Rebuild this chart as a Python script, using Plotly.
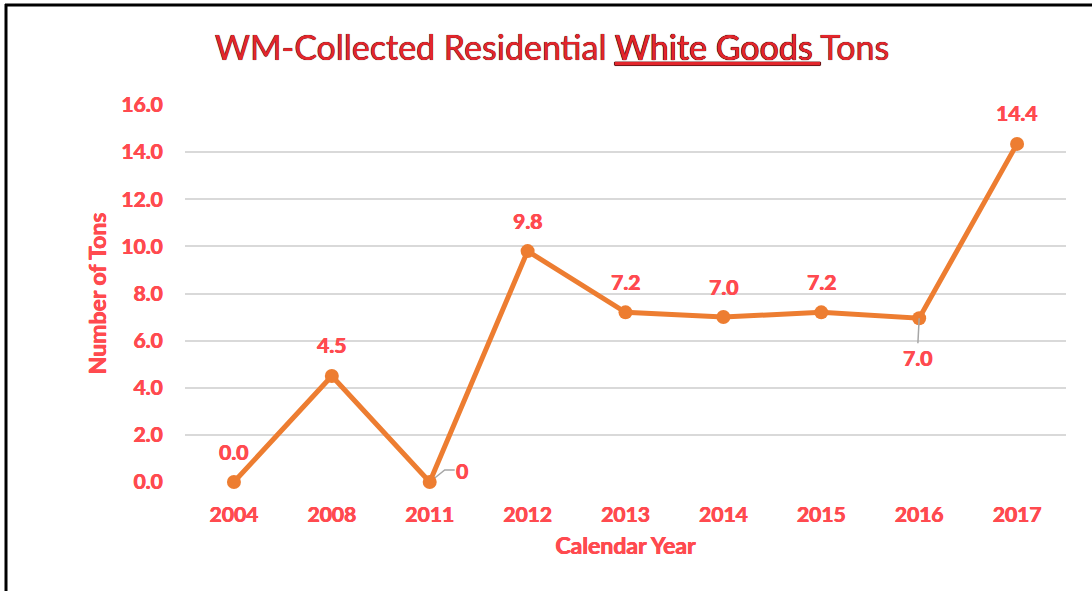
import plotly.graph_objects as go

years = ["2004", "2008", "2011", "2012", "2013", "2014", "2015", "2016", "2017"]
tons = [0.0, 4.5, 0.0, 9.8, 7.2, 7.0, 7.2, 6.95, 14.35]
labels = ["0.0", "4.5", "0", "9.8", "7.2", "7.0", "7.2", "7.0", "14.4"]
y_ticks = [0, 2, 4, 6, 8, 10, 12, 14, 16]
y_ticktext = ["%.1f" % v for v in y_ticks]

W, H = 1092, 591
ML, MR, MT, MB = 185, 26, 105, 109
RED = "#FF4A4F"
ORANGE = "#ED7D31"
FONT = "Lato"
HEAVY = "0.5px 0 0 %s, -0.3px 0 0 %s" % (RED, RED)

fig = go.Figure()
fig.add_trace(go.Scatter(
    x=years, y=tons, mode="lines+markers",
    line=dict(color=ORANGE, width=5),
    marker=dict(color=ORANGE, size=14),
    cliponaxis=False, hoverinfo="skip", showlegend=False,
))

# data labels
for i, (yr, v, lab) in enumerate(zip(years, tons, labels)):
    common = dict(x=i, y=v, xref="x", yref="y", text="<b>%s</b>" % lab,
                  xanchor="center", yanchor="middle",
                  font=dict(family=FONT, size=21, color=RED, shadow=HEAVY))
    if yr == "2011":
        # bent leader line drawn as a pixel-sized path anchored at the point
        fig.add_shape(type="path", xref="x", yref="y",
                      xsizemode="pixel", ysizemode="pixel",
                      xanchor=i, yanchor=v,
                      path="M 0 0 L 15 12 L 25 12",
                      line=dict(color="#A6A6A6", width=1.5), layer="below")
        fig.add_annotation(**common, showarrow=False, xshift=32, yshift=12)
    elif yr == "2016":
        fig.add_annotation(**common, showarrow=True, arrowhead=0,
                           arrowcolor="#A6A6A6", arrowwidth=1.5,
                           ax=-2, ay=39)
    else:
        fig.add_annotation(**common, showarrow=False, yshift=31)

pw = W - ML - MR
ph = H - MT - MB
def px(xp):
    return (xp - ML) / pw
def py(yp):
    return (H - MB - yp) / ph

# outer frame (left and top black lines)
fig.add_shape(type="line", xref="paper", yref="paper",
              x0=px(6), x1=px(6), y0=py(4), y1=py(H + 5),
              line=dict(color="black", width=3))
fig.add_shape(type="line", xref="paper", yref="paper",
              x0=px(5), x1=px(W + 5), y0=py(5), y1=py(5),
              line=dict(color="black", width=3))

fig.update_layout(
    width=W, height=H,
    margin=dict(l=ML, r=MR, t=MT, b=MB),
    paper_bgcolor="white", plot_bgcolor="white",
    title=dict(
        text="WM-Collected Residential <u>White Goods </u>Tons",
        x=552 / W, xanchor="center", y=1 - 48 / H, yanchor="middle",
        font=dict(family="Lato", size=34, color="#E3262C",
                  shadow="0 0 0.8px #3a0000, 0 0 0.6px #3a0000"),
    ),
    xaxis=dict(
        type="category", range=[-0.5, len(years) - 0.5],
        showgrid=False, showline=False, zeroline=False,
        tickfont=dict(family=FONT, size=21, color=RED, weight="bold", shadow=HEAVY),
        ticks="outside", ticklen=14, tickcolor="rgba(0,0,0,0)",
        title=dict(text="Calendar Year", standoff=12,
                   font=dict(family=FONT, size=23, color=RED, weight="bold",
                             shadow=HEAVY)),
    ),
    yaxis=dict(
        range=[0, 16], tickvals=y_ticks, ticktext=y_ticktext,
        showgrid=True, gridcolor="#D9D9D9", gridwidth=2,
        zeroline=False, showline=False,
        tickfont=dict(family=FONT, size=21, color=RED, weight="bold", shadow=HEAVY),
        ticks="outside", ticklen=17, tickcolor="rgba(0,0,0,0)",
        title=dict(text="Number of Tons", standoff=8,
                   font=dict(family=FONT, size=23, color=RED, weight="bold",
                             shadow=HEAVY)),
    ),
)

fig.write_html("out.html", config={"displayModeBar": False},
               post_script="document.body.style.margin='0';")
